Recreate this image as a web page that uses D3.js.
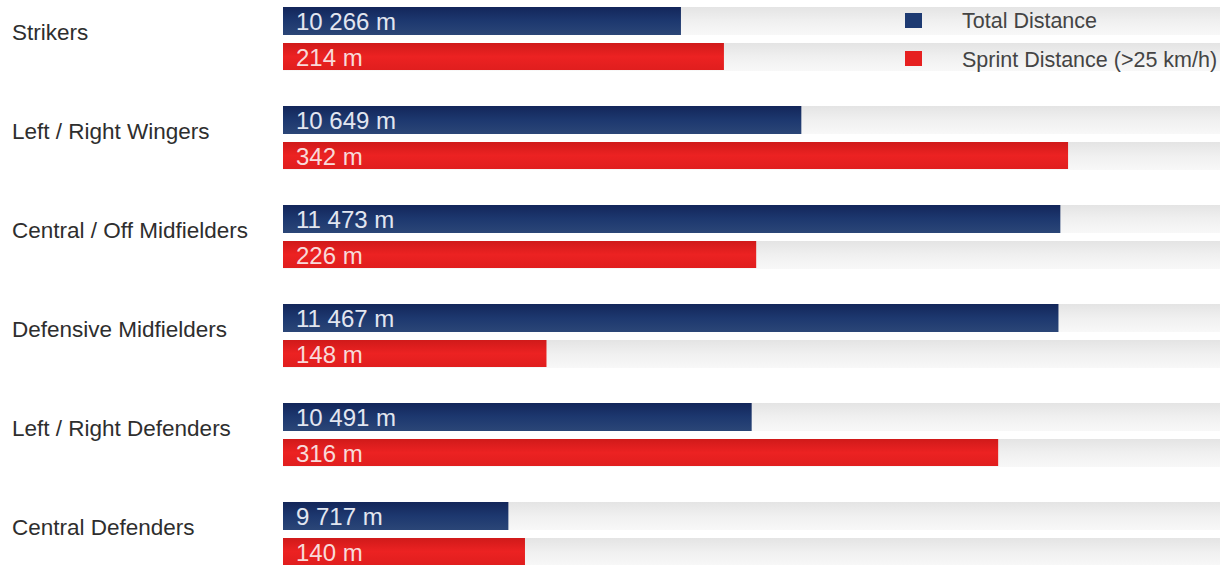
<!DOCTYPE html>
<html>
<head>
<meta charset="utf-8">
<script src="https://cdn.jsdelivr.net/npm/d3@7"></script>
<style>
  body { margin: 0; background: #fff; }
  svg { display: block; font-family: "Liberation Sans", Arial, sans-serif; }
</style>
</head>
<body>
<svg id="chart" width="1220" height="565"></svg>
<script>
// Data
var categories = ["Strikers", "Left / Right Wingers", "Central / Off Midfielders",
                  "Defensive Midfielders", "Left / Right Defenders", "Central Defenders"];
var totalDistance = [10266, 10649, 11473, 11467, 10491, 9717];
var sprintDistance = [214, 342, 226, 148, 316, 140];
var seriesNames = ["Total Distance", "Sprint Distance (>25 km/h)"];

var svg = d3.select("#chart");
var defs = svg.append("defs");

// gradients
function vGrad(id, stops) {
  var g = defs.append("linearGradient").attr("id", id)
    .attr("x1", 0).attr("y1", 0).attr("x2", 0).attr("y2", 1);
  stops.forEach(function(s){
    g.append("stop").attr("offset", s[0]).attr("stop-color", s[1]);
  });
}
vGrad("blueGrad", [[0, "#13265a"], [0.5, "#1d386f"], [1, "#2b4677"]]);
vGrad("redGrad", [[0, "#d01a1a"], [0.5, "#ec2222"], [1, "#e01e1e"]]);
vGrad("trackGrad", [[0, "#e4e4e4"], [0.5, "#f0f0f0"], [1, "#f8f8f8"]]);

var left = 283;
var xTotal = d3.scaleLinear().domain([9000, 12000]).range([left, 1226]);
var xSprint = d3.scaleLinear().domain([50, 400]).range([left, 1224]);

var y = d3.scaleBand().domain(categories).range([7, 7 + 99 * 6]);

var fmt = function(v) { return d3.format(",")(v).replace(/,/g, " ") + " m"; };

var rows = svg.selectAll("g.row").data(categories).enter().append("g")
  .attr("class", "row")
  .attr("transform", function(d){ return "translate(0," + y(d) + ")"; });

// background tracks
rows.append("rect").attr("x", left).attr("y", 0).attr("width", 1220 - left).attr("height", 28)
  .attr("fill", "url(#trackGrad)");
rows.append("rect").attr("x", left).attr("y", 36).attr("width", 1220 - left).attr("height", 28)
  .attr("fill", "url(#trackGrad)");

// bars
rows.append("rect")
  .attr("x", left).attr("y", 0).attr("height", 28)
  .attr("width", function(d, i){ return xTotal(totalDistance[i]) - left; })
  .attr("fill", "url(#blueGrad)");
rows.append("rect")
  .attr("x", left).attr("y", 36).attr("height", 27)
  .attr("width", function(d, i){ return xSprint(sprintDistance[i]) - left; })
  .attr("fill", "url(#redGrad)");

// value labels
rows.append("text")
  .attr("x", left + 13).attr("y", 23)
  .style("font-size", "24px").style("fill", "#e2e6f0")
  .text(function(d, i){ return fmt(totalDistance[i]); });
rows.append("text")
  .attr("x", left + 13).attr("y", 59)
  .style("font-size", "24px").style("fill", "#f8dada")
  .text(function(d, i){ return fmt(sprintDistance[i]); });

// category labels
rows.append("text")
  .attr("x", 12).attr("y", 33)
  .style("font-size", "22.5px").style("fill", "#2e2e2e")
  .text(function(d){ return d; });

// legend
var legend = svg.append("g");
var legColors = ["#1d3a72", "#e62020"];
seriesNames.forEach(function(name, i){
  legend.append("rect").attr("x", 905).attr("y", 13 + i * 38).attr("width", 17).attr("height", 15)
    .attr("fill", legColors[i]);
  legend.append("text").attr("x", 962).attr("y", 28 + i * 39)
    .style("font-size", "21.5px").style("fill", "#444")
    .text(name);
});
</script>
</body>
</html>
